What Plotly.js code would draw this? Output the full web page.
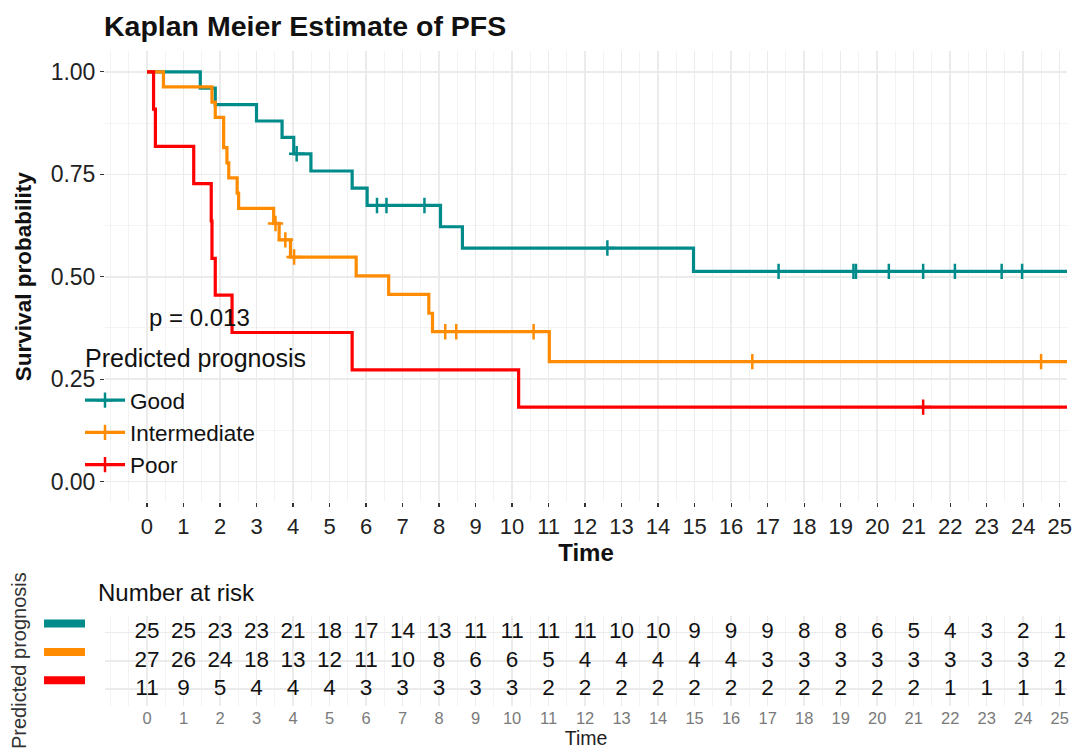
<!DOCTYPE html>
<html>
<head>
<meta charset="utf-8">
<script src="https://cdn.plot.ly/plotly-3.0.1.min.js"></script>
<style>html,body{margin:0;padding:0;background:#fff;}#chart{width:1075px;height:749px;}</style>
</head>
<body>
<div id="chart"></div>
<script>
// ---- Data ----
const groups = ["Good", "Intermediate", "Poor"];
const colors = ["#008B8B", "#FF8C00", "#FF0000"];

// Kaplan-Meier step vertices (time, survival)
const goodTime = [0, 1.46, 1.87, 3.0, 3.70, 4.02, 4.49, 5.62, 6.03, 8.04, 8.64, 14.97, 25.3];
const goodSurv = [1, 0.96, 0.92, 0.88, 0.84, 0.80, 0.758, 0.716, 0.674, 0.622, 0.570, 0.513, 0.513];
const goodCensTime = [4.10, 6.30, 6.56, 7.60, 12.61, 17.30, 19.35, 19.42, 20.32, 21.26, 22.13, 23.41, 23.97];
const goodCensSurv = [0.80, 0.674, 0.674, 0.674, 0.570, 0.513, 0.513, 0.513, 0.513, 0.513, 0.513, 0.513, 0.513];

const intTime = [0, 0.45, 1.78, 1.87, 2.10, 2.19, 2.24, 2.47, 2.51, 3.47, 3.62, 3.93, 5.73, 6.62, 7.72, 7.82, 11.02, 25.3];
const intSurv = [1, 0.963, 0.926, 0.889, 0.815, 0.778, 0.741, 0.704, 0.667, 0.630, 0.590, 0.548, 0.502, 0.457, 0.411, 0.366, 0.293, 0.293];
const intCensTime = [3.52, 3.79, 4.03, 8.17, 8.47, 10.59, 16.58, 24.49];
const intCensSurv = [0.630, 0.590, 0.548, 0.366, 0.366, 0.366, 0.293, 0.293];

const poorTime = [0, 0.18, 0.23, 1.28, 1.76, 1.78, 1.87, 2.33, 5.62, 10.18, 25.3];
const poorSurv = [1, 0.909, 0.818, 0.727, 0.636, 0.545, 0.455, 0.364, 0.273, 0.182, 0.182];
const poorCensTime = [21.26];
const poorCensSurv = [0.182];

// Number at risk table
const riskTimes = [0,1,2,3,4,5,6,7,8,9,10,11,12,13,14,15,16,17,18,19,20,21,22,23,24,25];
const riskGood = [25,25,23,23,21,18,17,14,13,11,11,11,11,10,10,9,9,9,8,8,6,5,4,3,2,1];
const riskIntermediate = [27,26,24,18,13,12,11,10,8,6,6,5,4,4,4,4,4,3,3,3,3,3,3,3,3,2];
const riskPoor = [11,9,5,4,4,4,3,3,3,3,3,2,2,2,2,2,2,2,2,2,2,2,1,1,1,1];
const riskRows = [3, 2, 1]; // row position for Good, Intermediate, Poor

const yTickVals = [0, 0.25, 0.5, 0.75, 1];
const yTickText = ["0.00", "0.25", "0.50", "0.75", "1.00"];
const pValueText = "p = 0.013";

// ---- Build traces ----
const FONT = "Liberation Sans, Arial, Helvetica, sans-serif";
const curves = [
  [goodTime, goodSurv, goodCensTime, goodCensSurv],
  [intTime, intSurv, intCensTime, intCensSurv],
  [poorTime, poorSurv, poorCensTime, poorCensSurv]
];
const risks = [riskGood, riskIntermediate, riskPoor];

const traces = [];
curves.forEach((c, i) => {
  traces.push({
    type: "scatter", mode: "lines", x: c[0], y: c[1],
    line: {color: colors[i], width: 3.2, shape: "hv"},
    xaxis: "x", yaxis: "y", showlegend: false, hoverinfo: "skip", legendgroup: groups[i]
  });
  traces.push({
    type: "scatter", mode: "markers", x: c[2], y: c[3],
    marker: {symbol: "cross-thin", size: 11, color: colors[i], line: {color: colors[i], width: 2.5}},
    xaxis: "x", yaxis: "y", showlegend: false, hoverinfo: "skip", legendgroup: groups[i]
  });
});
// legend entries (line + censor cross)
groups.forEach((g, i) => {
  traces.push({
    type: "scatter", mode: "lines+markers", x: [null], y: [null], name: g,
    line: {color: colors[i], width: 3.2},
    marker: {symbol: "cross-thin", size: 11, color: colors[i], line: {color: colors[i], width: 2.5}},
    xaxis: "x", yaxis: "y", showlegend: true, legendgroup: g
  });
});
// risk table
risks.forEach((r, i) => {
  traces.push({
    type: "scatter", mode: "text", x: riskTimes, y: riskTimes.map(() => riskRows[i]),
    text: r.map(String), textfont: {family: FONT, size: 22.5, color: "#111"},
    textposition: "middle center", cliponaxis: false,
    xaxis: "x2", yaxis: "y2", showlegend: false, hoverinfo: "skip"
  });
});

const gridMajor = "#EBEBEB", gridMinor = "#F3F3F3";
const layout = {
  width: 1075, height: 749,
  margin: {l: 105, r: 8, t: 0, b: 0},
  paper_bgcolor: "#fff", plot_bgcolor: "#fff",
  font: {family: FONT, color: "#222"},
  title: {
    text: "<b>Kaplan Meier Estimate of PFS</b>",
    font: {family: FONT, size: 28.5, color: "#111"},
    x: 104/1075, xref: "container", xanchor: "left",
    y: 1 - 26/749, yref: "container", yanchor: "middle"
  },
  xaxis: {
    domain: [0, 1], anchor: "y", range: [-1.15, 25.2],
    tickmode: "array", tickvals: riskTimes, ticktext: riskTimes.map(String),
    ticks: "outside", ticklen: 4, tickwidth: 1.2, tickcolor: "#333",
    tickfont: {family: FONT, size: 22, color: "#222"},
    showgrid: true, gridcolor: gridMajor, gridwidth: 1.5,
    minor: {tick0: 0, dtick: 0.5, showgrid: true, gridcolor: gridMinor, gridwidth: 1},
    zeroline: false, showline: false,
    title: {text: "<b>Time</b>", font: {family: FONT, size: 24, color: "#111"}, standoff: 0}
  },
  yaxis: {
    domain: [1 - 502.2/749, 1 - 51.3/749], anchor: "x", range: [-0.05, 1.05],
    tickmode: "array", tickvals: yTickVals, ticktext: yTickText,
    ticks: "outside", ticklen: 4, tickwidth: 1.2, tickcolor: "#333",
    tickfont: {family: FONT, size: 23, color: "#222"},
    showgrid: true, gridcolor: gridMajor, gridwidth: 1.5,
    minor: {tick0: 0, dtick: 0.125, showgrid: true, gridcolor: gridMinor, gridwidth: 1},
    zeroline: false, showline: false,
    title: {text: "<b>Survival probability</b>", font: {family: FONT, size: 22.5, color: "#111"}, standoff: 12}
  },
  xaxis2: {
    domain: [0, 1], anchor: "y2", range: [-1.15, 25.2],
    tickmode: "array", tickvals: riskTimes, ticktext: riskTimes.map(String),
    ticks: "", 
    tickfont: {family: FONT, size: 16.5, color: "#7a7a7a"},
    showgrid: true, gridcolor: gridMajor, gridwidth: 1.5,
    minor: {tick0: 0, dtick: 0.5, showgrid: true, gridcolor: gridMinor, gridwidth: 1},
    zeroline: false, showline: false,
    title: {text: "Time", font: {family: FONT, size: 19.5, color: "#222"}, standoff: 0}
  },
  yaxis2: {
    domain: [1 - 706.2/749, 1 - 615.6/749], anchor: "x2", range: [0.4, 3.6],
    tickmode: "array", tickvals: riskRows, showticklabels: false, ticks: "",
    showgrid: true, gridcolor: gridMajor, gridwidth: 1.5,
    zeroline: false, showline: false
  },
  showlegend: true,
  legend: {
    x: (80 - 105)/962, xanchor: "left", y: 1 - 379/749, yanchor: "top",
    bgcolor: "rgba(0,0,0,0)", borderwidth: 0,
    font: {family: FONT, size: 22.5, color: "#111"},
    tracegroupgap: 0, itemwidth: 40
  },
  annotations: [
    {text: "Predicted prognosis", x: (83 - 105)/962, y: 1 - 358/749, xref: "paper", yref: "paper",
     xanchor: "left", yanchor: "middle", showarrow: false, font: {family: FONT, size: 25, color: "#111"}},
    {text: pValueText, x: 0, y: 0.40, xref: "x", yref: "y", xanchor: "left", yanchor: "middle",
     showarrow: false, font: {family: FONT, size: 24, color: "#111"}},
    {text: "Number at risk", x: (96 - 105)/962, y: 1 - 592/749, xref: "paper", yref: "paper",
     xanchor: "left", yanchor: "middle", showarrow: false, font: {family: FONT, size: 24, color: "#111"}},
    {text: "Predicted prognosis", x: (19 - 105)/962, y: 1 - 661/749, xref: "paper", yref: "paper",
     xanchor: "center", yanchor: "middle", textangle: -90, showarrow: false,
     font: {family: FONT, size: 20, color: "#333"}}
  ],
  shapes: riskRows.map((row, i) => ({
    type: "rect", xref: "paper", yref: "y2",
    xsizemode: "pixel", xanchor: 0, x0: 44 - 105, x1: 85 - 105,
    ysizemode: "pixel", yanchor: row, y0: 5, y1: 13,
    fillcolor: colors[i], line: {width: 0}
  }))
};

Plotly.newPlot("chart", traces, layout, {displayModeBar: false, staticPlot: true});
</script>
</body>
</html>
